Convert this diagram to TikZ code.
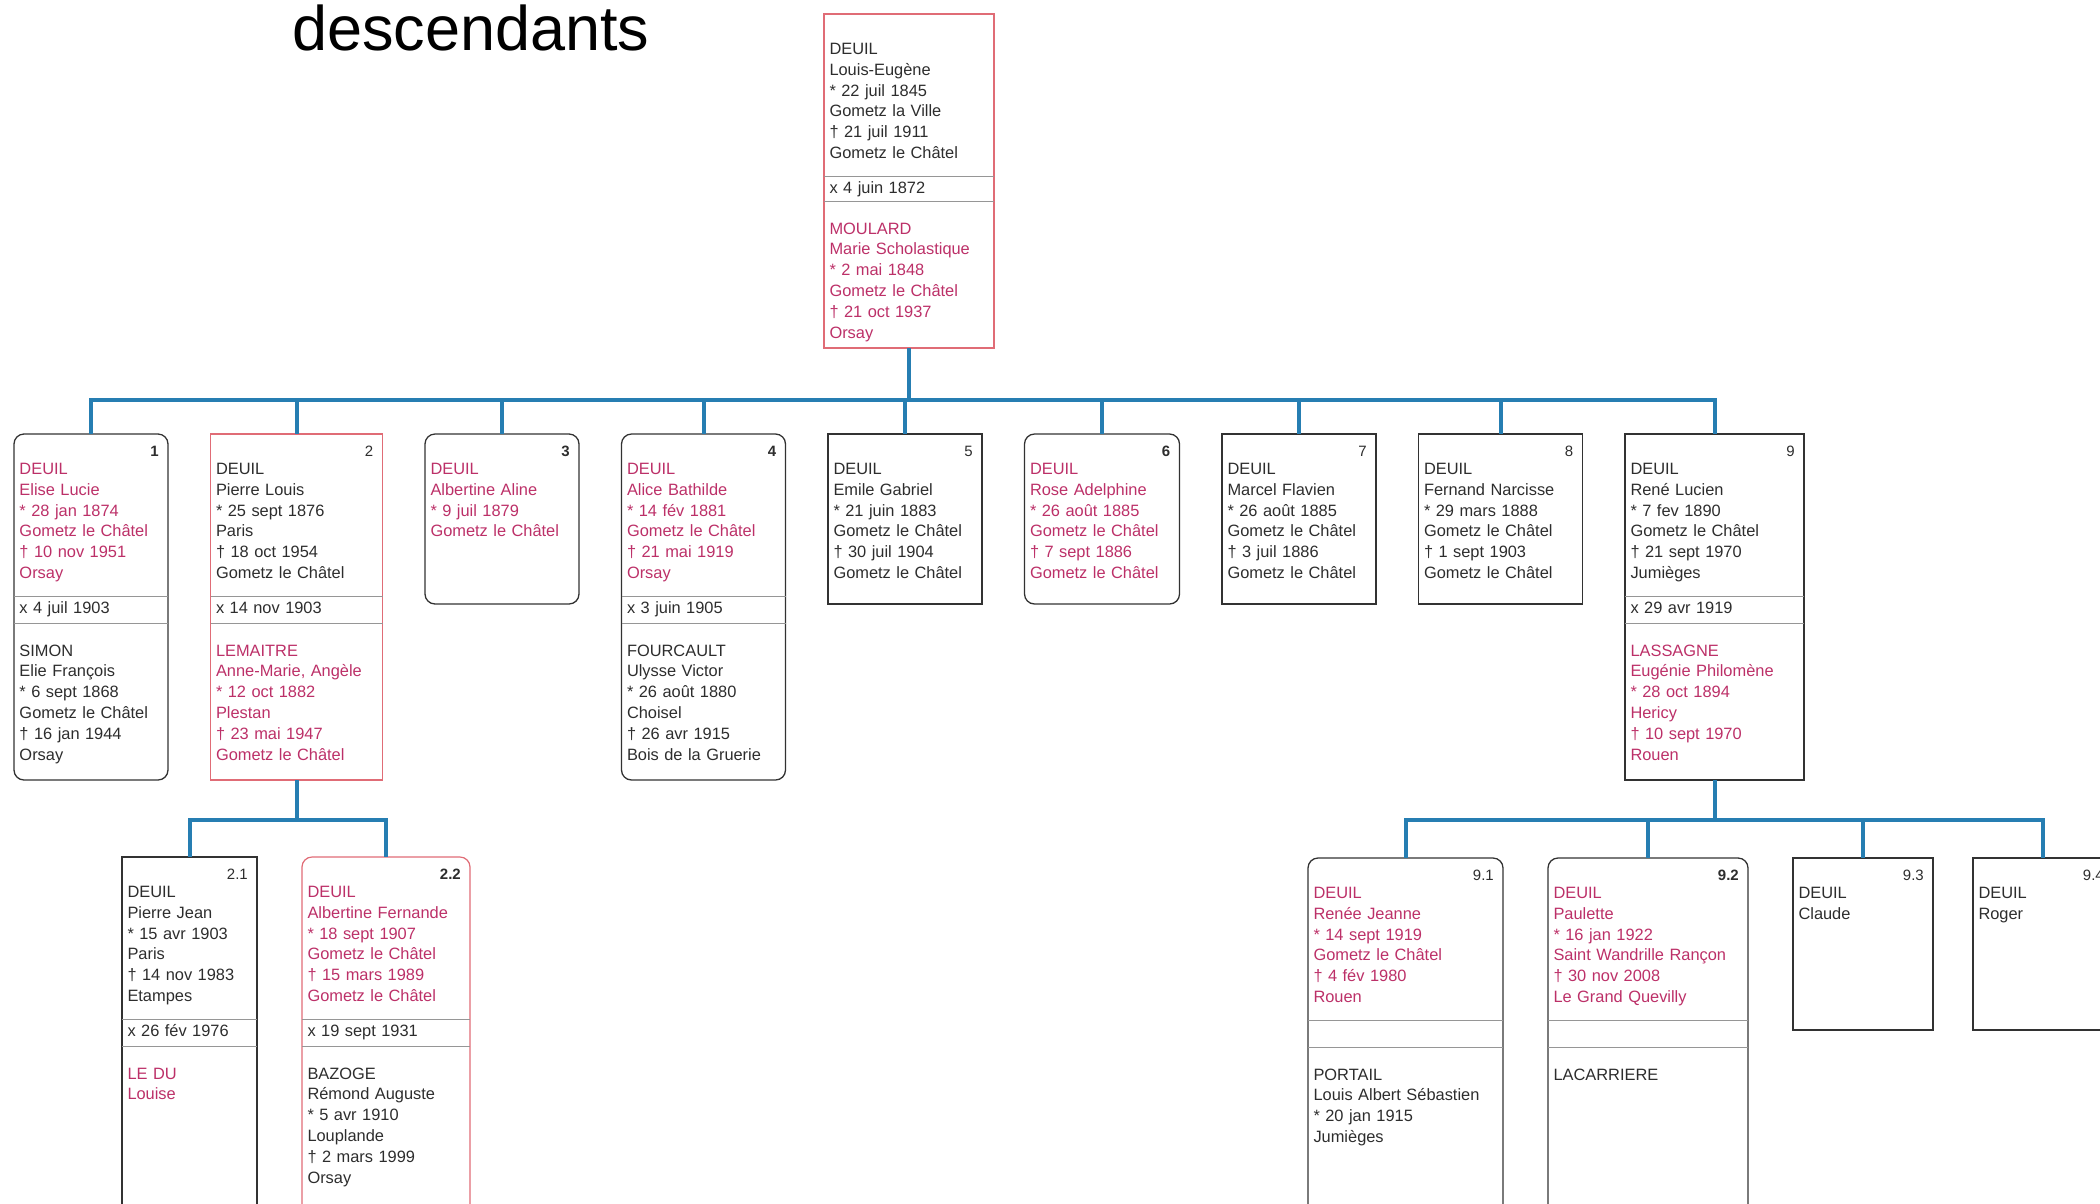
\documentclass[tikz,border=0pt]{standalone}
\usepackage{fontspec}
\setmainfont{Liberation Sans}
\usetikzlibrary{positioning}
\usetikzlibrary{calc}
\definecolor{encre}{RGB}{45,45,45}
\definecolor{carmin}{RGB}{188,48,104}
\definecolor{trait}{RGB}{50,50,50}
\definecolor{bordrouge}{RGB}{224,108,118}
\definecolor{gris}{RGB}{150,150,150}
\definecolor{bleu}{RGB}{38,126,178}
\tikzset{
    arbre/.style={
            x=1pt,y=-1pt,
            perso/.style={text width=##1, align=left, anchor=north west, outer sep=0pt,
                inner xsep=5.5pt, inner ysep=0pt, text height=40.5pt, text depth=121.5pt,
                font=\fontsize{16.4}{20.8}\selectfont, text=encre},
            union/.style={perso=##1, text height=17pt, text depth=10pt},
            conjoint/.style={perso=##1, text height=33pt, text depth=124pt},
            femme/.style={text=carmin},
            numero/.style={anchor=north east, inner sep=0pt, font=\fontsize{15}{15}\selectfont, text=encre},
            cadre/.style={draw=trait, line width=1.3pt},
            rond/.style={cadre, rounded corners=10pt},
            rouge/.style={draw=bordrouge, line width=1.2pt},
            sep/.style={draw=gris, line width=0.8pt},
            lien/.style={draw=bleu, line width=4pt},
            titre/.style={anchor=base west, inner sep=0pt, font=\fontsize{63}{63}\selectfont}
        }
    }
\begin{document}
\begin{tikzpicture}[arbre]
    \useasboundingbox (0,0) rectangle (2100,1203);
    \node[titre] (titre) at (292,50) {descendants};

    \node[perso=159pt] (p0) at (824,14) {DEUIL\\ Louis-Eugène\\ {*} 22 juil 1845\\ Gometz la Ville\\ † 21 juil 1911\\ Gometz le Châtel};
    \node[union=159pt, below=0pt of p0, text depth=8pt] (u0) {x 4 juin 1872};
    \node[conjoint=159pt, below=0pt of u0, femme, text depth=114pt] (s0) {MOULARD\\ Marie Scholastique\\ {*} 2 mai 1848\\ Gometz le Châtel\\ † 21 oct 1937\\ Orsay};
    \draw[cadre, rouge] (p0.north west) rectangle (s0.south east);
    \draw[sep] (u0.north west) -- (u0.north east) (u0.south west) -- (u0.south east);

    \node[perso=143pt, femme] (p1) at (14,434) {DEUIL\\ Elise Lucie\\ {*} 28 jan 1874\\ Gometz le Châtel\\ † 10 nov 1951\\ Orsay};
    \node[union=143pt, below=0pt of p1] (u1) {x 4 juil 1903};
    \node[conjoint=143pt, below=0pt of u1] (s1) {SIMON\\ Elie François\\ {*} 6 sept 1868\\ Gometz le Châtel\\ † 16 jan 1944\\ Orsay};
    \node[numero] (n1) at ([xshift=-9pt,yshift=-12pt]p1.north east) {\textbf{1}};
    \draw[rond] (p1.north west) rectangle (s1.south east);
    \draw[sep] (u1.north west) -- (u1.north east) (u1.south west) -- (u1.south east);

    \node[perso=161pt, right=42.5pt of p1.north east, anchor=north west] (p2) {DEUIL\\ Pierre Louis\\ {*} 25 sept 1876\\ Paris\\ † 18 oct 1954\\ Gometz le Châtel};
    \node[union=161pt, below=0pt of p2] (u2) {x 14 nov 1903};
    \node[conjoint=161pt, below=0pt of u2, femme] (s2) {LEMAITRE\\ Anne-Marie, Angèle\\ {*} 12 oct 1882\\ Plestan\\ † 23 mai 1947\\ Gometz le Châtel};
    \node[numero] (n2) at ([xshift=-9pt,yshift=-12pt]p2.north east) {2};
    \draw[cadre, rouge] (p2.north west) rectangle (s2.south east);
    \draw[sep] (u2.north west) -- (u2.north east) (u2.south west) -- (u2.south east);

    \node[perso=143pt, rond, femme, text depth=129.5pt, right=42.5pt of p2.north east, anchor=north west] (p3) {DEUIL\\ Albertine Aline\\ {*} 9 juil 1879\\ Gometz le Châtel};
    \node[numero] (n3) at ([xshift=-9pt,yshift=-12pt]p3.north east) {\textbf{3}};

    \node[perso=153pt, femme, right=42.5pt of p3.north east, anchor=north west] (p4) {DEUIL\\ Alice Bathilde\\ {*} 14 fév 1881\\ Gometz le Châtel\\ † 21 mai 1919\\ Orsay};
    \node[union=153pt, below=0pt of p4] (u4) {x 3 juin 1905};
    \node[conjoint=153pt, below=0pt of u4] (s4) {FOURCAULT\\ Ulysse Victor\\ {*} 26 août 1880\\ Choisel\\ † 26 avr 1915\\ Bois de la Gruerie};
    \node[numero] (n4) at ([xshift=-9pt,yshift=-12pt]p4.north east) {\textbf{4}};
    \draw[rond] (p4.north west) rectangle (s4.south east);
    \draw[sep] (u4.north west) -- (u4.north east) (u4.south west) -- (u4.south east);

    \node[perso=143pt, cadre, text depth=129.5pt, right=42.5pt of p4.north east, anchor=north west] (p5) {DEUIL\\ Emile Gabriel\\ {*} 21 juin 1883\\ Gometz le Châtel\\ † 30 juil 1904\\ Gometz le Châtel};
    \node[numero] (n5) at ([xshift=-9pt,yshift=-12pt]p5.north east) {5};

    \node[perso=144pt, rond, femme, text depth=129.5pt, right=42.5pt of p5.north east, anchor=north west] (p6) {DEUIL\\ Rose Adelphine\\ {*} 26 août 1885\\ Gometz le Châtel\\ † 7 sept 1886\\ Gometz le Châtel};
    \node[numero] (n6) at ([xshift=-9pt,yshift=-12pt]p6.north east) {\textbf{6}};

    \node[perso=143pt, cadre, text depth=129.5pt, right=42.5pt of p6.north east, anchor=north west] (p7) {DEUIL\\ Marcel Flavien\\ {*} 26 août 1885\\ Gometz le Châtel\\ † 3 juil 1886\\ Gometz le Châtel};
    \node[numero] (n7) at ([xshift=-9pt,yshift=-12pt]p7.north east) {7};

    \node[perso=153pt, cadre, text depth=129.5pt, right=42.5pt of p7.north east, anchor=north west] (p8) {DEUIL\\ Fernand Narcisse\\ {*} 29 mars 1888\\ Gometz le Châtel\\ † 1 sept 1903\\ Gometz le Châtel};
    \node[numero] (n8) at ([xshift=-9pt,yshift=-12pt]p8.north east) {8};

    \node[perso=168pt, right=42.5pt of p8.north east, anchor=north west] (p9) {DEUIL\\ René Lucien\\ {*} 7 fev 1890\\ Gometz le Châtel\\ † 21 sept 1970\\ Jumièges};
    \node[union=168pt, below=0pt of p9] (u9) {x 29 avr 1919};
    \node[conjoint=168pt, below=0pt of u9, femme] (s9) {LASSAGNE\\ Eugénie Philomène\\ {*} 28 oct 1894\\ Hericy\\ † 10 sept 1970\\ Rouen};
    \node[numero] (n9) at ([xshift=-9pt,yshift=-12pt]p9.north east) {9};
    \draw[cadre] (p9.north west) rectangle (s9.south east);
    \draw[sep] (u9.north west) -- (u9.north east) (u9.south west) -- (u9.south east);

    \node[perso=124pt] (p21) at (122,857) {DEUIL\\ Pierre Jean\\ {*} 15 avr 1903\\ Paris\\ † 14 nov 1983\\ Etampes};
    \node[union=124pt, below=0pt of p21] (u21) {x 26 fév 1976};
    \node[conjoint=124pt, below=0pt of u21, femme, text depth=150pt] (s21) {LE DU\\ Louise};
    \node[numero] (n21) at ([xshift=-9pt,yshift=-12pt]p21.north east) {2.1};
    \draw[cadre] (p21.north west) rectangle (s21.south east);
    \draw[sep] (u21.north west) -- (u21.north east) (u21.south west) -- (u21.south east);

    \node[perso=157pt, femme, right=45pt of p21.north east, anchor=north west] (p22) {DEUIL\\ Albertine Fernande\\ {*} 18 sept 1907\\ Gometz le Châtel\\ † 15 mars 1989\\ Gometz le Châtel};
    \node[union=157pt, below=0pt of p22] (u22) {x 19 sept 1931};
    \node[conjoint=157pt, below=0pt of u22, text depth=150pt] (s22) {BAZOGE\\ Rémond Auguste\\ {*} 5 avr 1910\\ Louplande\\ † 2 mars 1999\\ Orsay};
    \node[numero] (n22) at ([xshift=-9pt,yshift=-12pt]p22.north east) {\textbf{2.2}};
    \draw[rond, rouge] (p22.north west) rectangle (s22.south east);
    \draw[sep] (u22.north west) -- (u22.north east) (u22.south west) -- (u22.south east);

    \node[perso=184pt, femme] (p91) at (1308,858) {DEUIL\\ Renée Jeanne\\ {*} 14 sept 1919\\ Gometz le Châtel\\ † 4 fév 1980\\ Rouen};
    \node[union=184pt, below=0pt of p91] (u91) {};
    \node[conjoint=184pt, below=0pt of u91, text depth=150pt] (s91) {PORTAIL\\ Louis Albert Sébastien\\ {*} 20 jan 1915\\ Jumièges};
    \node[numero] (n91) at ([xshift=-9pt,yshift=-12pt]p91.north east) {9.1};
    \draw[rond] (p91.north west) rectangle (s91.south east);
    \draw[sep] (u91.north west) -- (u91.north east) (u91.south west) -- (u91.south east);

    \node[perso=189pt, femme, right=45pt of p91.north east, anchor=north west] (p92) {DEUIL\\ Paulette\\ {*} 16 jan 1922\\ Saint Wandrille Rançon\\ † 30 nov 2008\\ Le Grand Quevilly};
    \node[union=189pt, below=0pt of p92] (u92) {};
    \node[conjoint=189pt, below=0pt of u92, text depth=150pt] (s92) {LACARRIERE};
    \node[numero] (n92) at ([xshift=-9pt,yshift=-12pt]p92.north east) {\textbf{9.2}};
    \draw[rond] (p92.north west) rectangle (s92.south east);
    \draw[sep] (u92.north west) -- (u92.north east) (u92.south west) -- (u92.south east);

    \node[perso=129pt, cadre, text depth=131.5pt, right=45pt of p92.north east, anchor=north west] (p93) {DEUIL\\ Claude};
    \node[numero] (n93) at ([xshift=-9pt,yshift=-12pt]p93.north east) {9.3};

    \node[perso=129pt, cadre, text depth=131.5pt, right=40pt of p93.north east, anchor=north west] (p94) {DEUIL\\ Roger};
    \node[numero] (n94) at ([xshift=-9pt,yshift=-12pt]p94.north east) {9.4};

    \coordinate (b0) at ([yshift=-52pt]s0.south);
    \draw[lien] (s0.south) -- (b0);
    \draw[lien] (b0) -| (p1.north);
    \draw[lien] (b0) -| (p2.north);
    \draw[lien] (b0) -| (p3.north);
    \draw[lien] (b0) -| (p4.north);
    \draw[lien] (b0) -| (p5.north);
    \draw[lien] (b0) -| (p6.north);
    \draw[lien] (b0) -| (p7.north);
    \draw[lien] (b0) -| (p8.north);
    \draw[lien] (b0) -| (p9.north);

    \coordinate (b2) at ([yshift=-40pt]s2.south);
    \draw[lien] (s2.south) -- (b2);
    \draw[lien] (b2) -| (p21.north);
    \draw[lien] (b2) -| (p22.north);

    \coordinate (b9) at ([yshift=-40pt]s9.south);
    \draw[lien] (s9.south) -- (b9);
    \draw[lien] (b9) -| (p91.north);
    \draw[lien] (b9) -| (p92.north);
    \draw[lien] (b9) -| (p93.north);
    \draw[lien] (b9) -| (p94.north);
\end{tikzpicture}
\end{document}
